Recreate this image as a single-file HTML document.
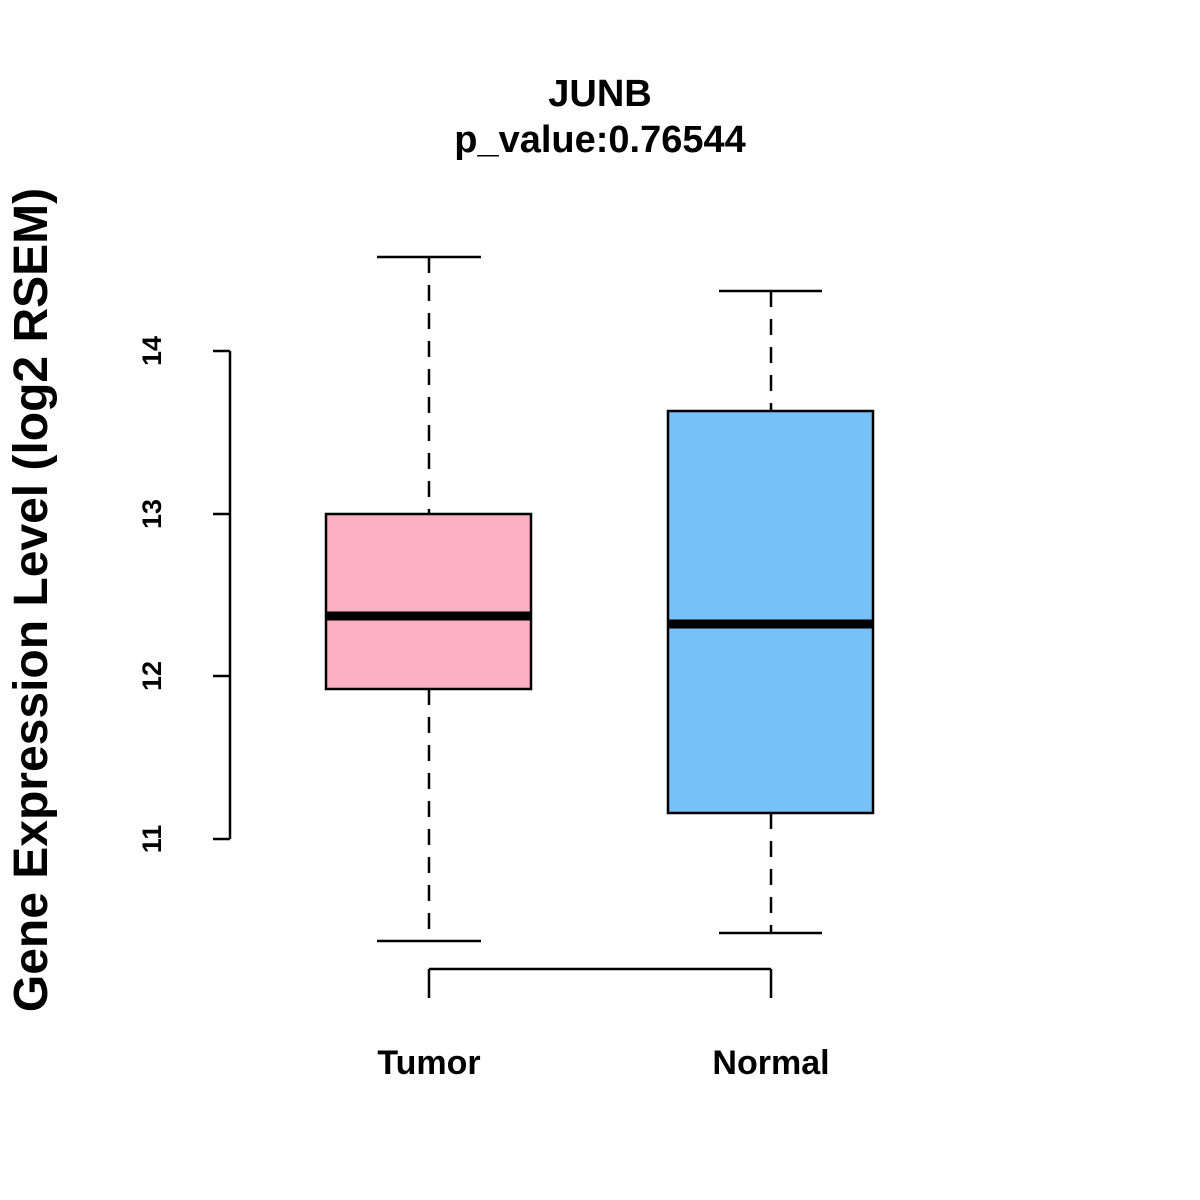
<!DOCTYPE html>
<html><head><style>body{margin:0;background:#fff}svg{display:block}</style></head>
<body>
<svg width="1200" height="1200" viewBox="0 0 1200 1200" xmlns="http://www.w3.org/2000/svg" font-family="Liberation Sans, Arial, sans-serif" font-weight="bold">
<rect width="1200" height="1200" fill="#fff"/>
<text x="600" y="106" font-size="38" text-anchor="middle">JUNB</text>
<text x="600" y="152" font-size="38" text-anchor="middle">p_value:0.76544</text>
<text transform="translate(47,600) rotate(-90)" font-size="48" text-anchor="middle">Gene Expression Level (log2 RSEM)</text>
<g stroke="#000" stroke-width="2.5" fill="none">
<path d="M230 351V839M213 351H230M213 514H230M213 676H230M213 839H230"/>
<path d="M429 969H771M429 969V998M771 969V998"/>
</g>
<g font-size="27" text-anchor="middle">
<text transform="translate(161,351) rotate(-90)">14</text>
<text transform="translate(161,514) rotate(-90)">13</text>
<text transform="translate(161,676) rotate(-90)">12</text>
<text transform="translate(161,839) rotate(-90)">11</text>
</g>
<g font-size="34" text-anchor="middle">
<text x="429" y="1074">Tumor</text>
<text x="771" y="1074">Normal</text>
</g>
<g stroke="#000" stroke-width="2.5">
<path d="M429 257V514M429 689V941" stroke-dasharray="16,12"/>
<path d="M377 257H481M377 941H481"/>
<rect x="326" y="514" width="205" height="175" fill="#FCB1C3"/>
<path d="M326 616H531" stroke-width="9"/>
<path d="M771 291V411M771 813V933" stroke-dasharray="16,12"/>
<path d="M719 291H822M719 933H822"/>
<rect x="668" y="411" width="205" height="402" fill="#75C1F8"/>
<path d="M668 624H873" stroke-width="9"/>
</g>
</svg>
</body></html>
